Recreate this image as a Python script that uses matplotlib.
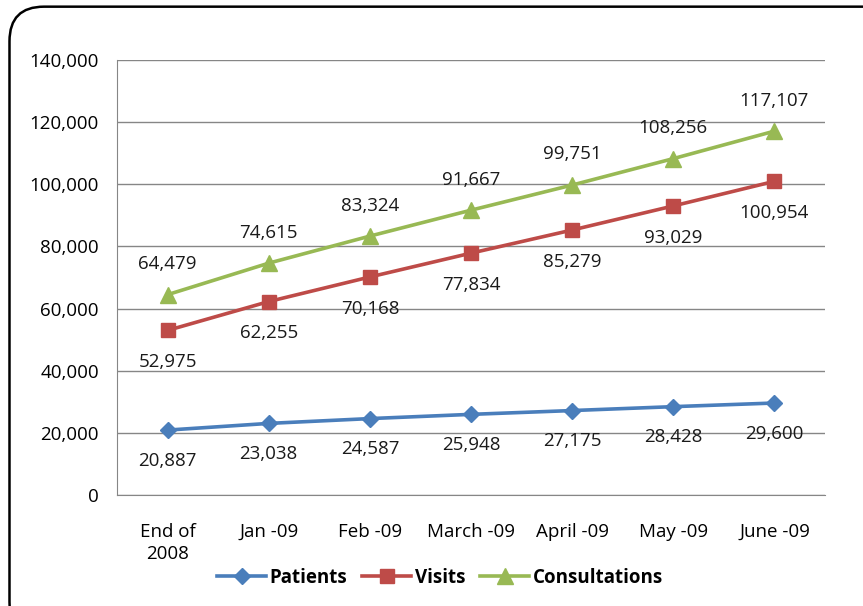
# Line chart of patients, visits and consultations, end of 2008 to June 2009

import matplotlib.pyplot as plt
from matplotlib.patches import FancyBboxPatch
from matplotlib.ticker import FuncFormatter

categories = ["End of\n2008", "Jan -09", "Feb -09", "March -09", "April -09", "May -09", "June -09"]
patients = [20887, 23038, 24587, 25948, 27175, 28428, 29600]
visits = [52975, 62255, 70168, 77834, 85279, 93029, 100954]
consultations = [64479, 74615, 83324, 91667, 99751, 108256, 117107]

plt.rcParams['font.family'] = ['Open Sans', 'DejaVu Sans']

fig = plt.figure(figsize=(8.63, 6.06), dpi=100)

# rounded frame around the chart (right and bottom edges run off the image)
frame = FancyBboxPatch((0.011, -0.05), 1.05, 1.039, boxstyle="round,pad=0,rounding_size=0.04",
                       transform=fig.transFigure, facecolor="white", edgecolor="black",
                       linewidth=1.8, mutation_aspect=863 / 606, zorder=-1)
fig.patches.append(frame)

ax = fig.add_axes([0.1356, 0.1832, 0.8204, 0.7178])
ax.set_facecolor("none")
x = list(range(len(categories)))

ax.plot(x, patients, color="#4A7EBB", linewidth=2.6, marker="D", markersize=8, label="Patients")
ax.plot(x, visits, color="#BE4B48", linewidth=2.6, marker="s", markersize=10.5, label="Visits")
ax.plot(x, consultations, color="#98B954", linewidth=2.6, marker="^", markersize=11, label="Consultations")

# data labels
lab = dict(textcoords="offset points", ha="center", va="center", fontsize=13.5, color="#1a1a1a")
for i in x:
    ax.annotate(f"{patients[i]:,}", (i, patients[i]), xytext=(0, -22), **lab)
    ax.annotate(f"{visits[i]:,}", (i, visits[i]), xytext=(0, -23), **lab)
    ax.annotate(f"{consultations[i]:,}", (i, consultations[i]), xytext=(0, 22), **lab)

ax.set_xlim(-0.5, len(categories) - 0.5)
ax.set_ylim(0, 140000)
ax.set_yticks(range(0, 140001, 20000))
ax.yaxis.set_major_formatter(FuncFormatter(lambda v, p: f"{int(v):,}"))
ax.set_xticks(x)
ax.set_xticklabels(categories, fontsize=13.5, linespacing=1.3)
ax.tick_params(axis="y", labelsize=13.5, length=0, pad=13)
ax.tick_params(axis="x", length=0, pad=20)
ax.grid(axis="y", color="#868686", linewidth=1)
ax.set_axisbelow(True)
for side in ["top", "right"]:
    ax.spines[side].set_visible(False)
for side in ["left", "bottom"]:
    ax.spines[side].set_color("#868686")

leg = fig.legend(*ax.get_legend_handles_labels(), loc="center", bbox_to_anchor=(0.51, 0.047), ncol=3,
                 frameon=False, prop={"weight": "bold", "size": 13.5}, handlelength=2.6,
                 columnspacing=0.8, handletextpad=0.2)

fig.savefig("out.png", dpi=100)
